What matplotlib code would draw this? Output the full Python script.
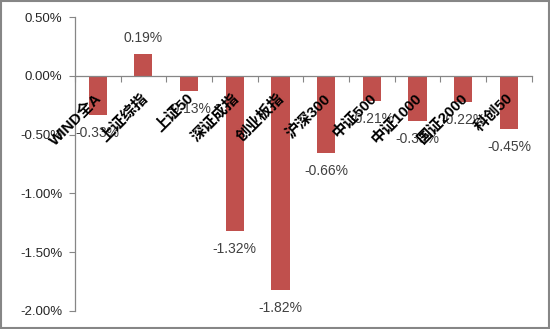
import matplotlib.pyplot as plt
from matplotlib.patches import Rectangle
from matplotlib.ticker import FuncFormatter

# 各指数涨跌幅（%）
categories = ['WIND全A', '上证综指', '上证50', '深证成指', '创业板指',
              '沪深300', '中证500', '中证1000', '国证2000', '科创50']
changes = [-0.33, 0.19, -0.13, -1.32, -1.82, -0.66, -0.21, -0.38, -0.22, -0.45]

plt.rcParams['font.family'] = ['Liberation Sans', 'Noto Sans CJK SC']

fig = plt.figure(figsize=(5.5, 3.29), dpi=100)
ax = fig.add_axes([0.136, 0.055, 0.831, 0.893])

x = list(range(len(categories)))
ax.bar(x, changes, width=0.4, color='#C0504D', zorder=1)
ax.set_axisbelow(False)

# 数据标签：正值在上，负值在下
for xi, v in zip(x, changes):
    off = 11 if v >= 0 else -13
    ax.annotate(f'{v:.2f}%', (xi, v), xytext=(0, off), textcoords='offset points',
                ha='center', va='center', fontsize=10, color='#404040', zorder=3)

# 类别标签：45度斜放在0线下方，压在柱子上
for xi, name in zip(x, categories):
    ax.annotate(name, (xi, 0), xytext=(-2, -11), textcoords='offset points',
                rotation=45, rotation_mode='anchor', ha='right', va='top',
                fontsize=11, fontweight='bold', color='black', zorder=4)

ax.set_xlim(-0.5, len(categories) - 0.5)
ax.set_ylim(-2.0, 0.5)
ax.set_yticks([0.5, 0.0, -0.5, -1.0, -1.5, -2.0])
ax.yaxis.set_major_formatter(FuncFormatter(lambda v, p: f'{v:.2f}%'))

# x轴放在0线上，刻度在类别边界
ax.spines['bottom'].set_position(('data', 0))
ax.spines['top'].set_visible(False)
ax.spines['right'].set_visible(False)
for s in ['bottom', 'left']:
    ax.spines[s].set_color('#868686')
    ax.spines[s].set_linewidth(0.9)

ax.set_xticks([i - 0.5 for i in range(len(categories) + 1)])
ax.set_xticklabels([])
ax.tick_params(axis='x', direction='out', length=4, color='#868686')
ax.tick_params(axis='y', direction='out', length=4, color='#868686', pad=5,
               labelsize=9.5, labelcolor='#262626')

# 外框
fig.patches.append(Rectangle((0.002, 0.003), 0.996, 0.994, transform=fig.transFigure,
                             fill=False, edgecolor='#868686', linewidth=1.5))

fig.savefig('out.png', dpi=100)
